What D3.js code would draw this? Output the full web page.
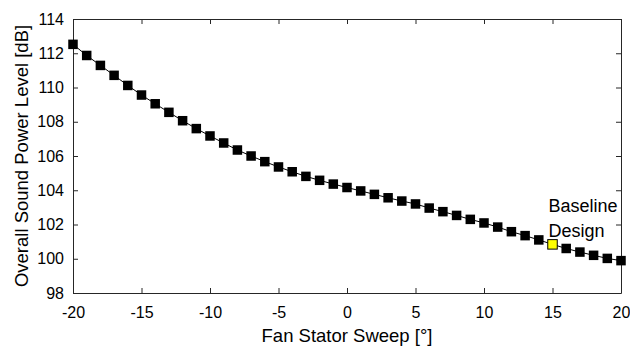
<!DOCTYPE html>
<html>
<head>
<meta charset="utf-8">
<script src="https://cdn.jsdelivr.net/npm/d3@7"></script>
<style>
  body { margin: 0; background: #fff; }
  svg { font-family: "Liberation Sans", Arial, sans-serif; }
</style>
</head>
<body>
<svg id="chart"></svg>
<script>
const sweep = d3.range(-20, 21);
const powerLevel = [
  112.52, 111.87, 111.29, 110.71, 110.12, 109.56, 109.05, 108.55, 108.06, 107.6,
  107.17, 106.76, 106.35, 106.0, 105.67, 105.36, 105.08, 104.81, 104.58, 104.36,
  104.16, 103.96, 103.76, 103.56, 103.37, 103.2, 102.96, 102.75, 102.53, 102.3,
  102.09, 101.85, 101.58, 101.35, 101.1, 100.84, 100.6, 100.39, 100.2, 100.02, 99.89
];
const baselineSweep = 15;
const xTicks = [-20, -15, -10, -5, 0, 5, 10, 15, 20];
const yTicks = [98, 100, 102, 104, 106, 108, 110, 112, 114];

function makeChart() {
  let w = 630;
  let h = 346;
  let left = 73, right = 621, top = 19, bottom = 293;

  let svg = d3.select('#chart')
    .attr('width', w)
    .attr('height', h);

  let xScale = d3.scaleLinear().domain([-20, 20]).range([left, right]);
  let yScale = d3.scaleLinear().domain([98, 114]).range([bottom, top]);

  const axisColor = '#262626';
  const fmt = d => String(d);

  // axes box with inward ticks
  let xAxis = d3.axisBottom(xScale).tickValues(xTicks).tickFormat(fmt).tickSizeInner(-5).tickSizeOuter(0).tickPadding(14);
  let gx = svg.append('g').attr('transform', `translate(0, ${bottom})`).call(xAxis);
  let xTop = d3.axisTop(xScale).tickValues(xTicks).tickSizeInner(-5).tickSizeOuter(0).tickFormat('');
  let gxt = svg.append('g').attr('transform', `translate(0, ${top})`).call(xTop);

  let yAxis = d3.axisLeft(yScale).tickValues(yTicks).tickFormat(fmt).tickSizeInner(-5).tickSizeOuter(0).tickPadding(9);
  let gy = svg.append('g').attr('transform', `translate(${left}, 0)`).call(yAxis);
  let yRight = d3.axisRight(yScale).tickValues(yTicks).tickSizeInner(-5).tickSizeOuter(0).tickFormat('');
  let gyr = svg.append('g').attr('transform', `translate(${right}, 0)`).call(yRight);

  [gx, gxt, gy, gyr].forEach(g => {
    g.selectAll('path, line').attr('stroke', axisColor).attr('stroke-width', 1);
    g.selectAll('text').attr('fill', '#000').style('font-size', '16px')
      .style('font-family', '"Liberation Sans", Arial, sans-serif');
  });

  let data = sweep.map((s, i) => ({ s: s, v: powerLevel[i] }));

  let line = d3.line()
    .x(d => xScale(d.s))
    .y(d => yScale(d.v));

  svg.append('path')
    .datum(data)
    .attr('d', line)
    .attr('fill', 'none')
    .attr('stroke', '#000')
    .attr('stroke-width', 1);

  let ms = 9.5;
  svg.selectAll('rect.pt')
    .data(data)
    .enter()
    .append('rect')
    .attr('class', 'pt')
    .attr('x', d => xScale(d.s) - ms / 2)
    .attr('y', d => yScale(d.v) - ms / 2)
    .attr('width', ms)
    .attr('height', ms)
    .attr('fill', d => d.s === baselineSweep ? '#ffff00' : '#000')
    .attr('stroke', '#000')
    .attr('stroke-width', d => d.s === baselineSweep ? 1 : 0);

  // annotation
  let base = data.find(d => d.s === baselineSweep);
  let ax = xScale(base.s) - 4;
  let ann = svg.append('text')
    .attr('x', ax)
    .attr('y', yScale(base.v) - 32.5)
    .style('font-size', '18px')
    .attr('fill', '#000');
  ann.append('tspan').attr('x', ax).text('Baseline');
  ann.append('tspan').attr('x', ax).attr('dy', 25).text('Design');

  // axis labels
  svg.append('text')
    .attr('x', (left + right) / 2)
    .attr('y', 342)
    .attr('text-anchor', 'middle')
    .style('font-size', '18.5px')
    .text('Fan Stator Sweep [°]');

  svg.append('text')
    .attr('transform', `translate(28, ${(top + bottom) / 2}) rotate(-90)`)
    .attr('text-anchor', 'middle')
    .style('font-size', '18.5px')
    .text('Overall Sound Power Level [dB]');
}

window.onload = function() {
  makeChart();
}
</script>
</body>
</html>
